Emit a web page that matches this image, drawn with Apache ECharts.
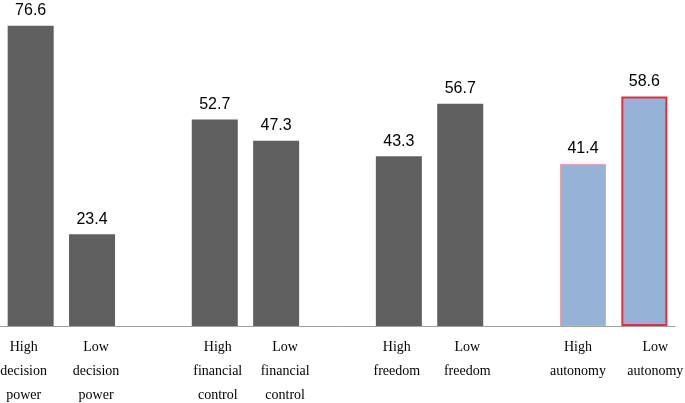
<!DOCTYPE html>
<html>
<head>
<meta charset="utf-8">
<script src="https://cdn.jsdelivr.net/npm/echarts@6/dist/echarts.min.js"></script>
<style>html,body{margin:0;padding:0;background:#fff;}#c{width:685px;height:403px;}</style>
</head>
<body>
<div id="c"></div>
<script>
var categories = ['High\ndecision\npower', 'Low\ndecision\npower', '',
  'High\nfinancial\ncontrol', 'Low\nfinancial\ncontrol', '',
  'High\nfreedom', 'Low\nfreedom', '',
  'High\nautonomy', 'Low\nautonomy'];
var values = [76.6, 23.4, null, 52.7, 47.3, null, 43.3, 56.7, null, 41.4, 58.6];
// horizontal nudge of each category label relative to its bar (px)
var labelShift = [-7, 4, 0, 3, 9, 0, -2, 7, 0, -5, 11];

var chart = echarts.init(document.getElementById('c'));
var data = values.map(function (v, i) {
  if (v === null) return '-';
  var item = { value: v, itemStyle: { color: '#5f5f5f' } };
  if (i === 9) item.itemStyle = { color: '#95b3d7', borderColor: '#e8a0a8', borderWidth: 1 };
  if (i === 10) item.itemStyle = { color: '#95b3d7', borderColor: '#e0303c', borderWidth: 2 };
  return item;
});
var catData = categories.map(function (c, i) {
  var d = labelShift[i];
  var pad = d >= 0 ? [0, 0, 0, 2 * d] : [0, -2 * d, 0, 0];
  return { value: c, textStyle: { padding: pad } };
});
chart.setOption({
  animation: false,
  grid: { left: 0, right: 10, top: 0, bottom: 77, containLabel: false, outerBoundsMode: 'none' },
  xAxis: {
    type: 'category',
    data: catData,
    axisLine: { lineStyle: { color: '#a0a0a0', width: 1 } },
    axisTick: { show: false },
    axisLabel: {
      interval: 0,
      fontFamily: 'Liberation Serif',
      fontSize: 14,
      color: '#000',
      lineHeight: 24,
      margin: 9
    }
  },
  yAxis: {
    type: 'value',
    min: 0,
    max: 83.2,
    show: false,
    splitLine: { show: false }
  },
  series: [{
    type: 'bar',
    data: data,
    barWidth: 46,
    label: {
      show: true,
      position: 'top',
      distance: 7,
      fontFamily: 'Liberation Sans',
      fontSize: 16,
      color: '#000',
      formatter: function (p) { return p.value.toFixed(1); }
    }
  }]
});
</script>
</body>
</html>
